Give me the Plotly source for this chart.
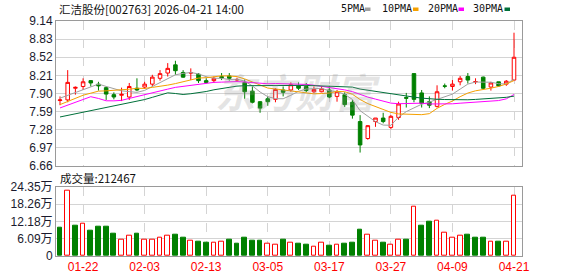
import plotly.graph_objects as go
import pandas as pd

# ---------------- data ----------------
dates = ["01-19", "01-20", "01-21", "01-22", "01-23", "01-26", "01-27", "01-28", "01-29", "01-30",
         "02-02", "02-03", "02-04", "02-05", "02-06", "02-09", "02-10", "02-11", "02-12", "02-13",
         "02-24", "02-25", "02-26", "02-27", "03-02", "03-03", "03-04", "03-05", "03-06", "03-09",
         "03-10", "03-11", "03-12", "03-13", "03-16", "03-17", "03-18", "03-19", "03-20", "03-23",
         "03-24", "03-25", "03-26", "03-27", "03-30", "03-31", "04-01", "04-02", "04-03", "04-07",
         "04-08", "04-09", "04-10", "04-13", "04-14", "04-15", "04-16", "04-17", "04-20", "04-21"]

opens = [7.78, 7.79, 7.99, 8.02, 8.12, 8.06, 8.00, 7.88, 7.87, 7.84,
         7.99, 8.01, 8.06, 8.16, 8.25, 8.39, 8.26, 8.25, 8.23, 8.12,
         8.12, 8.19, 8.20, 8.13, 8.09, 7.94, 7.76, 7.81, 7.80, 7.96,
         7.96, 8.03, 8.02, 7.93, 7.93, 7.96, 7.85, 7.88, 7.75, 7.42,
         7.13, 7.42, 7.48, 7.32, 7.49, 7.83, 8.24, 7.91, 7.76, 7.68,
         8.03, 8.02, 8.10, 8.19, 8.10, 8.18, 8.01, 8.10, 8.06, 8.13]
highs = [7.85, 8.30, 8.02, 8.16, 8.13, 8.10, 8.02, 7.92, 8.00, 8.08,
         8.16, 8.10, 8.22, 8.30, 8.42, 8.46, 8.30, 8.33, 8.25, 8.16,
         8.19, 8.25, 8.25, 8.17, 8.14, 8.02, 7.77, 7.85, 7.99, 8.02,
         8.09, 8.09, 8.08, 8.02, 8.02, 8.03, 7.96, 7.92, 7.79, 7.53,
         7.36, 7.48, 7.57, 7.53, 7.76, 7.91, 8.24, 7.96, 7.85, 8.04,
         8.07, 8.13, 8.20, 8.25, 8.16, 8.19, 8.10, 8.10, 8.13, 8.94]
lows = [7.70, 7.75, 7.88, 7.96, 8.02, 7.95, 7.79, 7.80, 7.77, 7.79,
        7.94, 7.98, 8.02, 8.12, 8.19, 8.22, 8.17, 8.13, 8.08, 8.08,
        8.08, 8.13, 8.12, 8.10, 7.81, 7.73, 7.57, 7.69, 7.75, 7.85,
        7.93, 7.96, 7.92, 7.91, 7.92, 7.82, 7.76, 7.67, 7.47, 6.89,
        7.11, 7.33, 7.39, 7.29, 7.45, 7.66, 7.75, 7.66, 7.65, 7.66,
        7.99, 7.95, 8.04, 8.07, 8.06, 7.97, 7.95, 8.02, 8.03, 8.13]
closes = [7.79, 8.09, 8.005, 8.10, 8.08, 8.03, 7.89, 7.84, 7.885, 8.02,
          7.96, 8.06, 8.18, 8.24, 8.33, 8.29, 8.18, 8.255, 8.12, 8.09,
          8.16, 8.17, 8.16, 8.14, 7.93, 7.75, 7.65, 7.76, 7.97, 7.92,
          8.05, 7.99, 7.95, 7.97, 7.98, 7.84, 7.93, 7.71, 7.53, 7.02,
          7.35, 7.48, 7.42, 7.51, 7.72, 7.82, 7.80, 7.73, 7.70, 7.93,
          8.025, 8.06, 8.16, 8.13, 8.105, 7.99, 8.08, 8.03, 8.11, 8.52]
# closes of the 29 sessions before the window (estimated from where the MA lines start)
prior_closes = [7.29, 7.20, 7.30, 7.28, 7.23, 7.09, 7.04, 7.09, 7.22, 7.16,
                7.13, 7.04, 7.14, 7.12, 8.63, 8.69, 7.86, 7.72, 7.35, 7.28,
                7.59, 7.40, 7.60, 7.73, 7.68, 7.84, 7.75, 7.90, 7.82]
# volume in 万 (10k) and its colour (1 = red/up, 0 = green/down)
volumes = [10.1, 22.8, 10.7, 11.3, 8.9, 10.3, 10.3, 8.0, 5.9, 7.0,
           7.8, 5.6, 5.9, 6.3, 7.0, 7.5, 6.4, 5.3, 5.0, 4.6,
           4.6, 5.0, 5.7, 4.3, 6.4, 5.3, 5.3, 4.3, 3.8, 5.7,
           4.6, 4.2, 3.9, 3.1, 4.5, 3.6, 3.8, 4.3, 4.6, 9.3,
           7.4, 5.3, 4.6, 3.8, 5.9, 5.6, 17.3, 10.7, 12.1, 12.4,
           8.2, 6.3, 7.0, 7.5, 6.4, 6.4, 5.2, 5.0, 5.0, 21.2467]
vol_up = [0, 1, 0, 1, 0, 0, 0, 0, 1, 1,
          0, 1, 1, 1, 1, 0, 0, 1, 0, 0,
          1, 1, 0, 0, 0, 0, 0, 1, 1, 0,
          1, 0, 0, 1, 1, 0, 1, 0, 0, 0,
          1, 1, 0, 1, 1, 0, 1, 0, 0, 1,
          1, 1, 1, 0, 0, 0, 1, 0, 1, 1]

price_ticks = [6.66, 6.97, 7.28, 7.59, 7.90, 8.21, 8.52, 8.83, 9.14]
vol_ticks = [0, 6.09, 12.18, 18.26, 24.35]
vol_tick_text = ["0", "6.09万", "12.18万", "18.26万", "24.35万"]
date_ticks = ["01-22", "02-03", "02-13", "03-05", "03-17", "03-27", "04-09", "04-21"]
ma_names = ["5PMA", "10PMA", "20PMA", "30PMA"]
ma_periods = [5, 10, 20, 30]
title_text = "汇洁股份[002763] 2026-04-21 14:00"

# ---------------- styles ----------------
RED = "#ff0000"
GREEN = "#008000"
MA_COLORS = ["#a0a0a0", "#f5a000", "#ff00ff", "#00703a"]
GRID = "#d4d4d4"
BORDER = "#9a9a9a"
W, H = 578, 276
L, R, T, B = 56, 56, 21, 20
PW, PH = W - L - R, H - T - B


def px(x):
    return (x - L) / PW


def py(y):
    return (H - B - y) / PH


xs = list(range(len(dates)))
all_closes = pd.Series(prior_closes + closes)
n_prior = len(prior_closes)

fig = go.Figure()

for name, per, col in zip(ma_names, ma_periods, MA_COLORS):
    ma = all_closes.rolling(per).mean().iloc[n_prior:].tolist()
    fig.add_trace(go.Scatter(x=xs, y=ma, mode="lines", line=dict(color=col, width=1),
                             xaxis="x", yaxis="y", hoverinfo="skip", showlegend=False))

fig.add_trace(go.Candlestick(
    x=xs, open=opens, high=highs, low=lows, close=closes,
    increasing=dict(line=dict(color=RED, width=1), fillcolor="white"),
    decreasing=dict(line=dict(color=GREEN, width=1), fillcolor=GREEN),
    whiskerwidth=0, xaxis="x", yaxis="y", showlegend=False, hoverinfo="skip"))

fig.add_trace(go.Bar(
    x=xs, y=volumes, width=0.62,
    marker=dict(color=["white" if u else GREEN for u in vol_up],
                line=dict(color=[RED if u else GREEN for u in vol_up], width=1)),
    xaxis="x2", yaxis="y2", showlegend=False, hoverinfo="skip"))

tickvals = [dates.index(d) for d in date_ticks]
xr = [-0.52, len(dates) - 1 + 1.04]
price_dom = [py(166), 1]
vol_dom = [0, py(186.7)]

common_x = dict(range=xr, tickvals=tickvals, showgrid=True, gridcolor=GRID, griddash="dash",
                gridwidth=1, showline=True, mirror=True, linecolor=BORDER, linewidth=1,
                zeroline=False, ticks="", fixedrange=True, automargin=False)
common_y = dict(showgrid=True, gridcolor=GRID, showline=True, mirror=True, linecolor=BORDER,
                zeroline=False, ticks="", automargin=False,
                tickfont=dict(family="Liberation Sans, Noto Sans CJK SC", size=12, color="#1a1a2e"))
fig.update_layout(
    width=W, height=H, margin=dict(l=L, r=R, t=T, b=B, autoexpand=False),
    paper_bgcolor="white", plot_bgcolor="white",
    boxgap=0.34,
    bargap=0,
    xaxis=dict(domain=[0, 1], anchor="y", showticklabels=False,
               rangeslider=dict(visible=False), **common_x),
    xaxis2=dict(domain=[0, 1], anchor="y2", matches="x", ticktext=date_ticks,
                tickfont=dict(family="Liberation Sans", size=12, color=RED), **common_x),
    yaxis=dict(domain=price_dom, range=[price_ticks[0], price_ticks[-1]], tickvals=price_ticks,
               ticktext=[f"{v:.2f}" for v in price_ticks], **common_y),
    yaxis2=dict(domain=vol_dom, range=[vol_ticks[0], vol_ticks[-1]], tickvals=vol_ticks,
                ticktext=vol_tick_text, **common_y),
)

FONT = "Noto Sans CJK SC"
MONO = "DejaVu Sans Mono, Noto Sans CJK SC"
ann = [
    dict(x=px(57), y=py(9), text=title_text, xanchor="left", yanchor="middle",
         font=dict(family=FONT, size=11.5, color="#111")),
    dict(x=px(58), y=py(177.5), text="成交量:" + str(round(volumes[-1] * 10000)),
         xanchor="left", yanchor="middle", font=dict(family=FONT, size=11.5, color="#111")),
    dict(x=px(298), y=py(91), text="东方财富", xanchor="center", yanchor="middle",
         font=dict(family=FONT, size=40, color="rgba(150,150,150,0.25)", weight="bold", style="italic")),
]
legend_x = [339, 380, 426, 471]
square_x = [365, 413, 458.5, 504.5]
shapes = []
for name, col, lx, sx in zip(ma_names, MA_COLORS, legend_x, square_x):
    ann.append(dict(x=px(lx), y=py(9), text=name, xanchor="left", yanchor="middle",
                    font=dict(family=MONO, size=10, color="#111")))
    shapes.append(dict(type="rect", xref="paper", yref="paper", x0=px(sx), x1=px(sx + 5.5),
                       y0=py(11), y1=py(7.5), fillcolor=col, line=dict(width=0)))
for a in ann:
    a.update(xref="paper", yref="paper", showarrow=False)
fig.update_layout(annotations=ann, shapes=shapes)

fig.write_html("out.html")
